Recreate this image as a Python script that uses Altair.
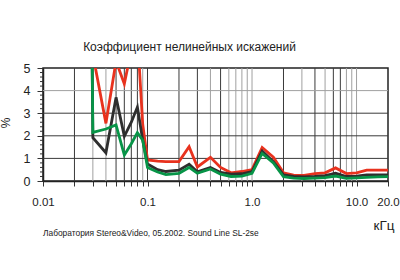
import altair as alt
import pandas as pd

# ---- data ----
freqs = [0.025, 0.03, 0.04, 0.05, 0.06, 0.07, 0.08, 0.09, 0.1, 0.125, 0.15, 0.2, 0.25,
         0.3, 0.4, 0.5, 0.63, 0.8, 1.0, 1.25, 1.6, 2.0, 2.5, 3.15, 4.0, 5.0, 6.3, 8.0,
         10.0, 12.5, 16.0, 20.0]
red = [40, 5.6, 2.55, 5.3, 4.3, 5.8, 6.5, 2.5, 0.93, 0.88, 0.86, 0.86, 1.52,
       0.62, 1.05, 0.6, 0.36, 0.42, 0.5, 1.48, 1.05, 0.36, 0.26, 0.25, 0.33, 0.36, 0.58, 0.33,
       0.36, 0.48, 0.48, 0.48]
black = [40, 1.92, 1.25, 3.7, 1.98, 2.6, 3.27, 1.8, 0.75, 0.5, 0.42, 0.48, 0.74,
         0.41, 0.6, 0.38, 0.3, 0.32, 0.42, 1.32, 0.85, 0.27, 0.2, 0.18, 0.2, 0.24, 0.34, 0.2,
         0.22, 0.27, 0.27, 0.27]
green = [40, 2.15, 2.3, 2.48, 1.15, 1.65, 2.14, 1.8, 0.6, 0.4, 0.28, 0.34, 0.6,
         0.34, 0.53, 0.3, 0.2, 0.22, 0.34, 1.22, 0.8, 0.19, 0.13, 0.11, 0.13, 0.15, 0.22, 0.12,
         0.14, 0.16, 0.18, 0.19]

x_tick_values = [0.01, 0.02, 0.03, 0.04, 0.05, 0.06, 0.07, 0.08, 0.09,
                 0.1, 0.2, 0.3, 0.4, 0.5, 0.6, 0.7, 0.8, 0.9,
                 1, 2, 3, 4, 5, 6, 7, 8, 9, 10, 20]
x_labels = {0.01: "0.01", 0.1: "0.1", 1: "1.0", 10: "10.0", 20: "20.0"}
vgrid_dark = [0.02, 0.05, 0.06, 0.07, 0.08, 0.1, 0.2, 0.3, 0.5, 2, 4, 6, 7]
vgrid_light = [0.03, 0.04, 0.09, 0.4, 0.6, 0.7, 0.8, 0.9, 1, 3, 5, 8, 9, 10]
hgrid_dark = [1, 2, 3]
hgrid_light = [4]
y_major = [0, 1, 2, 3, 4, 5]
y_minor = [round(i * 0.2, 1) for i in range(26) if i % 5 != 0]

title_text = "Коэффициент нелинейных искажений"
footer_text = "Лаборатория Stereo&Video, 05.2002. Sound Line SL-2se"
x_unit = "кГц"
y_unit = "%"

W, H = 345, 113
FONT = "Liberation Sans"
xs = alt.Scale(type="log", domain=[0.01, 20], nice=False)
ys = alt.Scale(domain=[0, 5], nice=False, zero=False)

label_expr = " : ".join(
    [f"datum.value == {k} ? '{v}'" for k, v in x_labels.items()]) + " : ''"

x_axis = alt.Axis(
    values=x_tick_values, labelExpr=label_expr, grid=False, title=None,
    tickSize=5, tickColor="#333", domainColor="#222", domainWidth=1.5,
    labelFont=FONT, labelFontSize=11.5, labelColor="#222", labelPadding=10,
    labelOverlap=False, labelFlush=False)
y_axis = alt.Axis(
    values=y_major, grid=False, title=None, tickSize=6, tickColor="#333",
    domainColor="#222", domainWidth=1.5, labelFont=FONT, labelFontSize=12.5,
    labelColor="#222", labelPadding=7, format="d")

gcol = alt.Scale(domain=["d", "l"], range=["#3a3a3a", "#a0a0a0"])

# vertical grid
vg = pd.DataFrame({"f": vgrid_dark + vgrid_light,
                   "k": ["d"] * len(vgrid_dark) + ["l"] * len(vgrid_light)})
vgrid = alt.Chart(vg).mark_rule(strokeWidth=1).encode(
    x=alt.X("f:Q", scale=xs, axis=x_axis),
    y=alt.value(0), y2=alt.value(H),
    color=alt.Color("k:N", scale=gcol, legend=None),
)
hg = pd.DataFrame({"v": hgrid_dark + hgrid_light,
                   "k": ["d"] * len(hgrid_dark) + ["l"] * len(hgrid_light)})
hgrid = alt.Chart(hg).mark_rule(strokeWidth=1).encode(
    y=alt.Y("v:Q", scale=ys, axis=y_axis),
    x=alt.value(0), x2=alt.value(W),
    color=alt.Color("k:N", scale=gcol, legend=None),
)
yminor = alt.Chart(pd.DataFrame({"v": y_minor})).mark_rule(strokeWidth=1, color="#333").encode(
    y=alt.Y("v:Q", scale=ys, axis=y_axis),
    x=alt.value(-3), x2=alt.value(0),
)


def series(vals, col):
    df = pd.DataFrame({"f": freqs, "v": vals})
    return alt.Chart(df).mark_line(color=col, strokeWidth=2.8, clip=True).encode(
        x=alt.X("f:Q", scale=xs, axis=x_axis),
        y=alt.Y("v:Q", scale=ys, axis=y_axis),
    )


lines = series(red, "#e8321e") + series(black, "#2e2e2e") + series(green, "#079447")


def txt(s, x, y, size, align="center", angle=0):
    return alt.Chart(pd.DataFrame({"t": [s]})).mark_text(
        font=FONT, fontSize=size, color="#222", align=align, baseline="middle", angle=angle
    ).encode(text="t:N", x=alt.value(x), y=alt.value(y))


texts = (txt(title_text, 146.5, -21, 12)
         + txt(footer_text, 0, 165, 8.4, align="left")
         + txt(x_unit, 341, 158, 13.5)
         + txt(y_unit, -37, 55, 12, angle=270))

chart = alt.layer(vgrid, hgrid, yminor, lines, texts).properties(
    width=W, height=H, autosize="none",
    padding={"left": 43, "top": 68, "right": 12, "bottom": 99},
    background="white",
).configure_view(stroke="#222", strokeWidth=1.5)

chart.save("out.html", embed_options={"renderer": "svg", "actions": False})
